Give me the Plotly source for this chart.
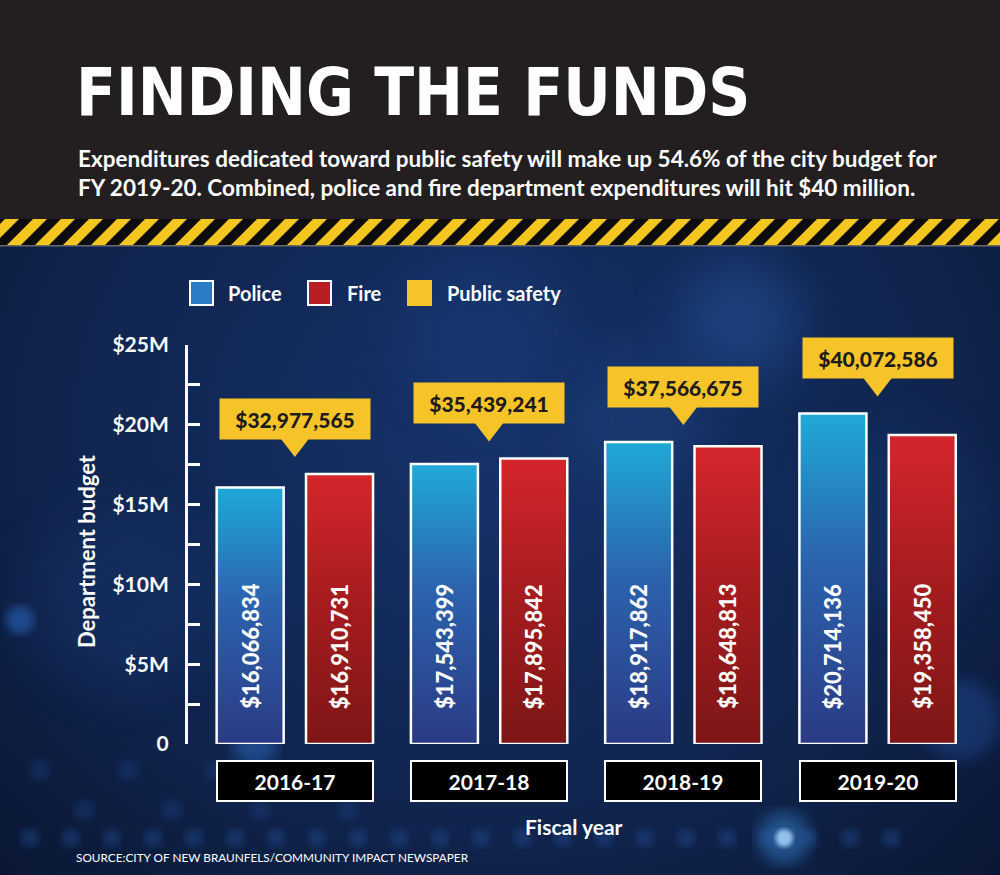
import base64
import plotly.graph_objects as go

# budget figures
years = ["2016-17", "2017-18", "2018-19", "2019-20"]
police = [16066834, 17543399, 18917862, 20714136]
fire = [16910731, 17895842, 18648813, 19358450]
public_safety = [32977565, 35439241, 37566675, 40072586]

y_tickvals = [0, 5e6, 10e6, 15e6, 20e6, 25e6]
y_ticktext = ["0", "$5M", "$10M", "$15M", "$20M", "$25M"]

W, H = 1000, 875
FONT = "Lato, 'Open Sans', sans-serif"
YELLOW = "#f6c429"
PX = 25e6 / 399  # dollars per pixel on the value axis


def money(v):
    return "${:,}".format(v)


def background_svg():
    # dark header, hazard band, and the blurry navy backdrop
    dots = ""
    for k in range(22):
        cx = 30 + k * 41
        dots += f"<circle cx='{cx}' cy='838' r='9' fill='#2a5db0' opacity='0.35' filter='url(#b4)'/>"
    for k in range(8):
        dots += f"<circle cx='{40 + k * 44}' cy='{770 + (k % 2) * 40}' r='10' fill='#25509c' opacity='0.3' filter='url(#b4)'/>"
    glows = [
        (784, 838, 9, "#e8f6ff", 0.95, "b2"),
        (784, 838, 26, "#3b8fe0", 0.45, "b8"),
        (255, 745, 22, "#2d77d8", 0.45, "b8"),
        (740, 320, 60, "#2a5fb0", 0.4, "b20"),
        (640, 420, 70, "#23508f", 0.3, "b20"),
        (480, 330, 80, "#1d4589", 0.3, "b20"),
        (120, 600, 90, "#1b3f80", 0.25, "b20"),
        (900, 520, 90, "#1e4388", 0.25, "b20"),
        (20, 620, 14, "#2d6fd0", 0.5, "b4"),
        (960, 720, 40, "#2a63c0", 0.3, "b8"),
    ]
    spots = "".join(
        f"<circle cx='{x}' cy='{y}' r='{r}' fill='{c}' opacity='{o}' filter='url(#{f})'/>"
        for x, y, r, c, o, f in glows
    )
    svg = f"""<svg xmlns='http://www.w3.org/2000/svg' width='{W}' height='{H}' viewBox='0 0 {W} {H}'>
<defs>
<radialGradient id='bg' cx='0.5' cy='0.5' r='0.75'>
<stop offset='0' stop-color='#16336a'/><stop offset='0.6' stop-color='#10244d'/><stop offset='1' stop-color='#091530'/>
</radialGradient>
<pattern id='hz' width='28' height='28' patternUnits='userSpaceOnUse' patternTransform='skewX(-45)'>
<rect width='14' height='28' fill='#f3c71f'/></pattern>
<filter id='b2'><feGaussianBlur stdDeviation='2'/></filter>
<filter id='b4'><feGaussianBlur stdDeviation='4'/></filter>
<filter id='b8'><feGaussianBlur stdDeviation='8'/></filter>
<filter id='b20' x='-1' y='-1' width='3' height='3'><feGaussianBlur stdDeviation='25'/></filter>
</defs>
<rect width='{W}' height='{H}' fill='url(#bg)'/>
{spots}{dots}
<rect width='{W}' height='220' fill='#231f20'/>
<rect y='219' width='{W}' height='27' fill='#0c0c0c'/>
<rect y='219' width='{W}' height='27' fill='url(#hz)'/>
<rect y='245' width='{W}' height='1.5' fill='#6b6b6b'/>
</svg>"""
    return "data:image/svg+xml;base64," + base64.b64encode(svg.encode()).decode()


def note(x, y, text, size, xanchor="center", yanchor="middle", **kw):
    # free text placed in figure pixels (paper == whole figure, margins are 0)
    font = dict(family=kw.pop("family", FONT), size=size, color=kw.pop("color", "white"),
                weight=kw.pop("weight", "bold"))
    fig.add_annotation(xref="paper", yref="paper", x=x / W, y=1 - y / H, text=text,
                       xanchor=xanchor, yanchor=yanchor, showarrow=False, font=font, **kw)


fig = go.Figure()

series = [
    ("Police", police, -0.23, ["#2b3a84", "#2c62ad", "#1fa9d9"]),
    ("Fire", fire, 0.23, ["#7d1616", "#a81c1f", "#d4262c"]),
]
bar_w = 0.345

for name, values, off, cols in series:
    for i, v in enumerate(values):
        x0, x1 = i + off - bar_w / 2, i + off + bar_w / 2
        fig.add_trace(go.Scatter(
            x=[x0, x0, x1, x1, x0], y=[0, v, v, 0, 0],
            mode="lines", fill="toself",
            line=dict(color="white", width=2.5),
            fillgradient=dict(type="vertical", start=0, stop=v,
                              colorscale=[[0, cols[0]], [0.55, cols[1]], [1, cols[2]]]),
            name=name, showlegend=False, hoverinfo="skip",
        ))
        # value written up the bar
        fig.add_annotation(x=i + off, y=6.1e6, text=money(v), textangle=-90,
                           xanchor="center", yanchor="middle", showarrow=False,
                           font=dict(family=FONT, size=22, color="white", weight=900))

# public safety callouts: pointer + yellow box above the taller bar
tops = [max(p, f) for p, f in zip(police, fire)]
fig.add_trace(go.Scatter(
    x=list(range(len(years))), y=[t + 30 * PX for t in tops], mode="markers",
    marker=dict(symbol="triangle-down", size=26, color=YELLOW, line=dict(width=0)),
    showlegend=False, hoverinfo="skip", cliponaxis=False,
))
for i, (t, total) in enumerate(zip(tops, public_safety)):
    fig.add_annotation(x=i, y=t, xanchor="center", yanchor="bottom", yshift=34, text=money(total),
                       showarrow=False, bgcolor=YELLOW, width=148, height=38, borderpad=1,
                       font=dict(family=FONT, size=21, color="#1e1b1c", weight=900))
    # fiscal-year label boxes
    fig.add_annotation(x=i, y=0, xanchor="center", yanchor="top", yshift=-16, text=years[i],
                       showarrow=False, bgcolor="black", bordercolor="white", borderwidth=2,
                       borderpad=0, width=154, height=38,
                       font=dict(family=FONT, size=21, color="white", weight="bold"))

# header text
note(74, 92, "FINDING THE FUNDS", 65, xanchor="left",
     family="'Liberation Sans Narrow', 'DejaVu Sans Condensed', sans-serif")
note(76, 158, "Expenditures dedicated toward public safety will make up 54.6% of the city budget for",
     22.5, xanchor="left")
note(76, 187, "FY 2019-20. Combined, police and fire department expenditures will hit $40 million.",
     22.5, xanchor="left")

# hand-made legend
legend_items = [("Police", "#2a7cc4", "white", 190, 226),
                ("Fire", "#b71f24", "white", 308, 345),
                ("Public safety", YELLOW, YELLOW, 408, 445)]
for label, fillc, edge, sx, tx in legend_items:
    fig.add_shape(type="rect", xref="paper", yref="paper",
                  x0=sx / W, x1=(sx + 23) / W, y0=1 - 305 / H, y1=1 - 281 / H,
                  fillcolor=fillc, line=dict(color=edge, width=2))
    note(tx, 293, label, 20, xanchor="left")

# axis titles and source
note(86, 551, "Department budget", 22, textangle=-90)
note(574, 826, "Fiscal year", 21)
note(74, 857, "SOURCE:CITY OF NEW BRAUNFELS/COMMUNITY IMPACT NEWSPAPER", 11.8,
     xanchor="left", weight="normal")

fig.update_layout(
    width=W, height=H,
    margin=dict(l=0, r=0, t=0, b=0),
    paper_bgcolor="#0f2247", plot_bgcolor="rgba(0,0,0,0)",
    showlegend=False,
    images=[dict(source=background_svg(), xref="paper", yref="paper", x=0, y=1,
                 sizex=1, sizey=1, xanchor="left", yanchor="top", sizing="stretch", layer="below")],
    xaxis=dict(domain=[188 / W, 965 / W], range=[-0.55, 3.45], visible=False, fixedrange=True),
    yaxis=dict(domain=[1 - 744 / H, 1 - 345 / H], range=[0, 25e6], automargin=False, fixedrange=True,
               tickvals=y_tickvals, ticktext=y_ticktext,
               ticks="inside", ticklen=12, tickwidth=3, tickcolor="white",
               showline=True, linecolor="white", linewidth=3,
               showgrid=False, zeroline=False, ticklabelstandoff=12,
               tickfont=dict(family=FONT, size=21, color="white", weight="bold"),
               minor=dict(dtick=2.5e6, tick0=0, ticks="inside", ticklen=12, tickwidth=3,
                          tickcolor="white", showgrid=False)),
)

fig.write_html("out.html", config={"displayModeBar": False},
               post_script="document.body.style.margin='0';")
